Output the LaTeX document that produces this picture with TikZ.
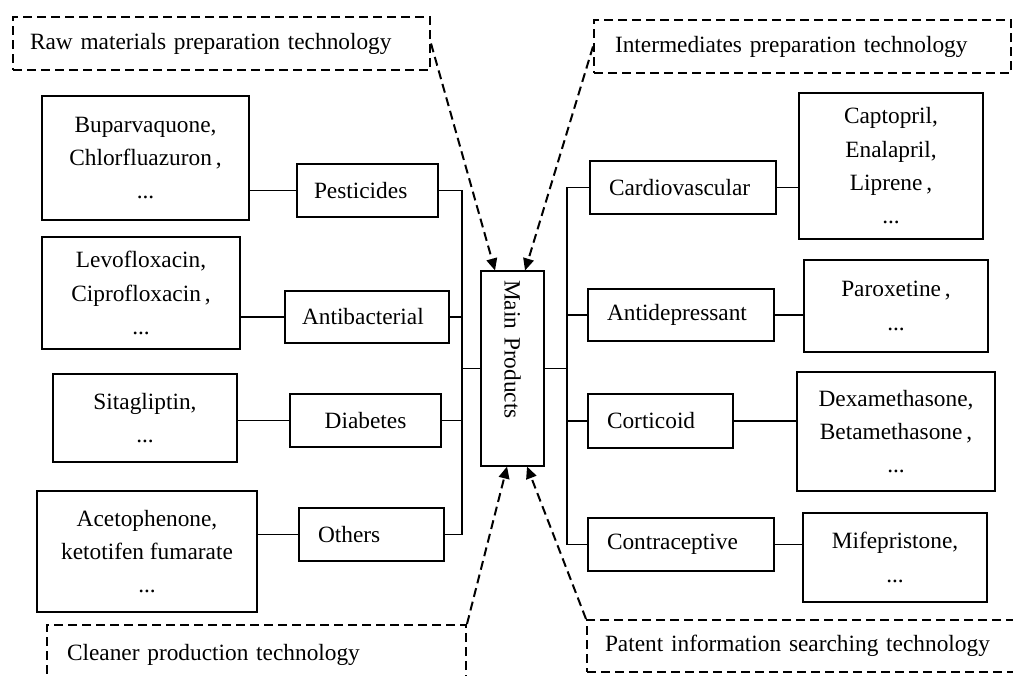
\documentclass[tikz,border=0pt]{standalone}
\usepackage{fontspec}
\setmainfont{Liberation Serif}
\usetikzlibrary{arrows.meta}
\begin{document}
\begin{tikzpicture}[x=0.75pt,y=-0.75pt,
  every node/.style={font=\fontsize{17.5}{25}\selectfont},
  box/.style={draw, line width=0.8pt, inner sep=0pt, align=center},
  cat/.style={draw, line width=0.8pt, inner ysep=0pt, inner xsep=13.5pt, align=left},
  dbox/.style={draw, line width=1.5pt, dash pattern=on 6.75pt off 3.75pt, inner ysep=0pt, align=left},
  conn/.style={line width=0.8pt},
  darrow/.style={line width=1.5pt, dash pattern=on 6.75pt off 3.75pt, -{Triangle[length=9pt,width=8pt]}}
]
\useasboundingbox (0,0) rectangle (1013,675);
\clip (0,0) rectangle (1013,675);

% dashed technology boxes
\node[dbox, inner xsep=12.75pt, text width=287.25pt, minimum height=39.75pt] (raw) at (221.5,43.5) {Raw materials preparation technology};
\node[dbox, inner xsep=15.75pt, text width=281.25pt, minimum height=39.75pt] (int) at (802.5,46.5) {Intermediates preparation technology};
\node[dbox, inner xsep=15pt, text width=284.25pt, minimum height=45pt] (clean) at (256.5,655) {Cleaner production technology};
\node[dbox, inner xsep=13.5pt, text width=297.75pt, minimum height=39pt] (patent) at (803.5,646) {Patent information searching technology};

% main node (rotated: west = top, east = bottom, south = left, north = right)
\node[draw, line width=0.8pt, rotate=-90, inner ysep=0pt, inner xsep=6.75pt, text width=132.75pt, align=left, minimum height=47.25pt] (main) at (512.5,368.5) {Main Products};

% left leaf boxes
\node[box, minimum width=155.25pt, minimum height=93pt] (bup) at (145.5,158) {Buparvaquone,\\Chlorfluazuron\,,\\...};
\node[box, minimum width=148.5pt, minimum height=84pt] (levo) at (141,293) {Levofloxacin,\\Ciprofloxacin\,,\\...};
\node[box, minimum width=138pt, minimum height=66pt] (sita) at (145,418) {Sitagliptin,\\...};
\node[box, minimum width=165pt, minimum height=90.75pt] (acet) at (147,551.5) {Acetophenone,\\ketotifen fumarate\\...};

% left categories
\node[cat, inner xsep=12.75pt, text width=80.25pt, minimum height=39.75pt] (pest) at (367.5,190.5) {Pesticides};
\node[cat, inner xsep=12.75pt, text width=97.5pt, minimum height=39pt] (anti) at (367,317) {Antibacterial};
\node[box, minimum width=113.25pt, minimum height=39.75pt] (diab) at (365.5,420.5) {Diabetes};
\node[cat, inner xsep=14.25pt, text width=80.25pt, minimum height=39.75pt] (oth) at (371.5,534.5) {Others};

% right categories
\node[cat, inner xsep=14.25pt, text width=111pt, minimum height=39.75pt] (card) at (683,187.5) {Cardiovascular};
\node[cat, inner xsep=14.25pt, text width=111pt, minimum height=39pt] (antid) at (681,315) {Antidepressant};
\node[cat, inner xsep=14.25pt, text width=80.25pt, minimum height=40.5pt] (cort) at (660.5,421) {Corticoid};
\node[cat, inner xsep=14.25pt, text width=111pt, minimum height=39.75pt] (contra) at (681,544.5) {Contraceptive};

% right leaf boxes
\node[box, minimum width=138pt, minimum height=109.5pt] (capt) at (891,166) {Captopril,\\Enalapril,\\Liprene\,,\\...};
\node[box, minimum width=138pt, minimum height=69pt] (parox) at (896,306) {Paroxetine\,,\\...};
\node[box, minimum width=148.5pt, minimum height=89.25pt] (dexa) at (896,431.5) {Dexamethasone,\\Betamethasone\,,\\...};
\node[box, minimum width=138pt, minimum height=66.75pt] (mife) at (895,557.5) {Mifepristone,\\...};

% buses
\coordinate (busL) at (462,368.5);
\coordinate (busR) at (567,368.5);
\draw[conn] (main.south) -- (busL);
\draw[conn] (main.north) -- (busR);
\draw[conn] (pest.east) -| (busL);
\draw[conn] (anti.east) -| (busL);
\draw[conn] (diab.east) -| (busL);
\draw[conn] (oth.east) -| (busL);
\draw[conn] (card.west) -| (busR);
\draw[conn] (antid.west) -| (busR);
\draw[conn] (cort.west) -| (busR);
\draw[conn] (contra.west) -| (busR);

% leaf connections
\draw[conn] (pest.west) -- (bup.east |- pest.west);
\draw[conn] (anti.west) -- (levo.east |- anti.west);
\draw[conn] (diab.west) -- (sita.east |- diab.west);
\draw[conn] (oth.west) -- (acet.east |- oth.west);
\draw[conn] (card.east) -- (capt.west |- card.east);
\draw[conn] (antid.east) -- (parox.west |- antid.east);
\draw[conn] (cort.east) -- (dexa.west |- cort.east);
\draw[conn] (contra.east) -- (mife.west |- contra.east);

% dashed arrows
\draw[darrow] (raw.east) -- ([xshift=-13.1pt]main.west);
\draw[darrow] (int.west) -- ([xshift=9.4pt]main.west);
\draw[darrow] (clean.north east) -- ([xshift=-4.1pt]main.east);
\draw[darrow] (patent.north west) -- ([xshift=10.9pt]main.east);
\end{tikzpicture}
\end{document}
